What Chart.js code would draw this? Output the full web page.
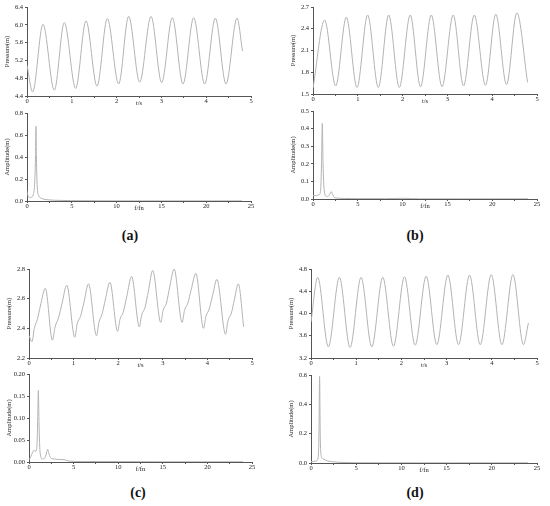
<!DOCTYPE html>
<html><head><meta charset="utf-8">
<script src="https://cdn.jsdelivr.net/npm/chart.js@4.4.0/dist/chart.umd.min.js"></script>
<style>
body{margin:0;background:#fff;width:550px;height:506px;position:relative;overflow:hidden}
canvas{position:absolute}
.lab{position:absolute;font:bold 14px 'Liberation Serif',serif;color:#111;transform:translate(-50%,-50%)}
</style></head><body>
<div class="lab" style="left:130px;top:236px">(a)</div>
<div class="lab" style="left:415px;top:236px">(b)</div>
<div class="lab" style="left:138px;top:493px">(c)</div>
<div class="lab" style="left:415px;top:493px">(d)</div>
<script>
// ---- data ----
const timeA = [0, 0.126, 0.357, 0.610, 0.833, 1.086, 1.317, 1.563, 1.793, 2.046, 2.269, 2.515, 2.768, 3.006, 3.244, 3.482, 3.720, 3.966, 4.204, 4.442, 4.688, 4.81];
const pressureA = [5.09, 4.49, 6.01, 4.53, 6.05, 4.57, 6.09, 4.62, 6.14, 4.67, 6.19, 4.71, 6.19, 4.70, 6.16, 4.67, 6.16, 4.67, 6.15, 4.67, 6.15, 5.41];

const timeB = [0, 0.26, 0.506, 0.744, 0.982, 1.22, 1.458, 1.69, 1.927, 2.17, 2.40, 2.64, 2.88, 3.13, 3.36, 3.60, 3.85, 4.08, 4.32, 4.55, 4.79];
const pressureB = [1.58, 2.52, 1.61, 2.56, 1.59, 2.59, 1.59, 2.59, 1.59, 2.59, 1.60, 2.59, 1.60, 2.59, 1.61, 2.59, 1.62, 2.60, 1.63, 2.62, 1.66];

const timeC = [0, 0.067, 0.12, 0.187, 0.255, 0.367,
  0.525, 0.585, 0.66, 0.735, 0.847,
  1.027, 1.079, 1.154, 1.229, 1.334,
  1.514, 1.567, 1.642, 1.709, 1.814,
  1.987, 2.039, 2.114, 2.189, 2.301,
  2.474, 2.526, 2.601, 2.676, 2.774,
  2.954, 3.006, 3.081, 3.156, 3.253,
  3.433, 3.486, 3.561, 3.636, 3.741,
  3.913, 3.966, 4.04, 4.115, 4.213,
  4.408, 4.46, 4.535, 4.603, 4.693, 4.813];
const pressureC = [2.35, 2.31, 2.40, 2.46, 2.55, 2.67,
  2.32, 2.41, 2.47, 2.56, 2.69,
  2.34, 2.43, 2.48, 2.57, 2.70,
  2.35, 2.44, 2.50, 2.59, 2.71,
  2.38, 2.46, 2.51, 2.61, 2.75,
  2.41, 2.49, 2.54, 2.65, 2.79,
  2.44, 2.52, 2.57, 2.68, 2.80,
  2.44, 2.52, 2.57, 2.66, 2.77,
  2.40, 2.48, 2.53, 2.62, 2.73,
  2.36, 2.45, 2.50, 2.59, 2.70, 2.41];

const timeD = [0, 0.148, 0.384, 0.628, 0.864, 1.108, 1.344, 1.588, 1.824, 2.068, 2.304, 2.548, 2.784, 3.028, 3.264, 3.508, 3.744, 3.988, 4.224, 4.468, 4.70, 4.81];
const pressureD = [3.85, 4.65, 3.40, 4.65, 3.39, 4.65, 3.40, 4.65, 3.41, 4.66, 3.43, 4.67, 3.44, 4.69, 3.44, 4.69, 3.44, 4.70, 3.44, 4.70, 3.44, 3.83];

const freqA = [0, 0.1, 0.3, 0.5, 0.7, 0.85, 0.95, 1.0, 1.05, 1.15, 1.3, 1.6, 2, 2.5, 3, 4, 5, 8, 12, 16, 20, 24];
const ampA = [0.09, 0.05, 0.03, 0.035, 0.06, 0.15, 0.40, 0.68, 0.40, 0.12, 0.05, 0.025, 0.015, 0.01, 0.007, 0.005, 0.003, 0.002, 0.001, 0.001, 0.001, 0.001];

const freqB = [0, 0.4, 0.7, 0.85, 0.95, 1.04, 1.12, 1.25, 1.5, 1.8, 1.95, 2.05, 2.15, 2.35, 2.7, 3.5, 5, 8, 10, 12, 16, 20, 24];
const ampB = [0.02, 0.02, 0.025, 0.05, 0.2, 0.43, 0.2, 0.05, 0.015, 0.02, 0.035, 0.042, 0.03, 0.01, 0.005, 0.003, 0.002, 0.002, 0.004, 0.001, 0.001, 0.001, 0.001];

const freqC = [0, 0.2, 0.4, 0.56, 0.75, 0.9, 0.98, 1.05, 1.12, 1.25, 1.5, 1.8, 2.0, 2.1, 2.2, 2.4, 2.8, 3.2, 4, 4.5, 6, 10, 15, 20, 24];
const ampC = [0.005, 0.012, 0.022, 0.027, 0.024, 0.04, 0.10, 0.163, 0.09, 0.02, 0.007, 0.01, 0.024, 0.029, 0.022, 0.01, 0.007, 0.006, 0.005, 0.002, 0.001, 0.001, 0.0005, 0.0005, 0.0005];

const freqD = [0, 0.3, 0.6, 0.8, 0.88, 0.95, 1.02, 1.1, 1.3, 1.6, 2, 2.5, 3, 4, 5, 8, 12, 16, 20, 24];
const ampD = [0.01, 0.01, 0.015, 0.04, 0.2, 0.59, 0.2, 0.06, 0.03, 0.02, 0.012, 0.008, 0.005, 0.003, 0.002, 0.001, 0.001, 0.001, 0.001, 0.001];

// axis ranges / tick steps
const timeAxis = {min: 0, max: 5, major: 1, minor: 0.5, title: 't/s'};
const freqAxis = {min: 0, max: 25, major: 5, minor: 2.5, title: 'f/fn'};
const yPressA = {min: 4.4, max: 6.4, step: 0.4, dec: 1, title: 'Pressure(m)'};
const yPressB = {min: 1.5, max: 2.7, step: 0.3, dec: 1, title: 'Pressure(m)'};
const yPressC = {min: 2.2, max: 2.8, step: 0.2, dec: 1, title: 'Pressure(m)'};
const yPressD = {min: 3.2, max: 4.8, step: 0.4, dec: 1, title: 'Pressure(m)'};
const yAmpA = {min: 0, max: 0.8, step: 0.2, dec: 1, title: 'Amplitude(m)'};
const yAmpB = {min: 0, max: 0.5, step: 0.1, dec: 1, title: 'Amplitude(m)'};
const yAmpC = {min: 0, max: 0.2, step: 0.05, dec: 2, title: 'Amplitude(m)'};
const yAmpD = {min: 0, max: 0.6, step: 0.2, dec: 1, title: 'Amplitude(m)'};

// ---- drawing ----
const LINE = '#b3b3b3', AX = '#555', TXT = '#222';
const FONT = {family: "'Liberation Serif', serif", size: 6.5};

function panel(g, xs, ys, xa, ya) {
  const W = 27, PT = 6, PR = 8, H = 13;
  const cv = document.createElement('canvas');
  const cl = g.l - W, ct = g.t - PT;
  cv.width = g.r - cl + PR; cv.height = g.b - ct + H;
  cv.style.left = cl + 'px'; cv.style.top = ct + 'px';
  document.body.appendChild(cv);
  new Chart(cv, {
    type: 'line',
    data: {datasets: [{data: xs.map((x, i) => ({x: x, y: ys[i]})), borderColor: LINE, borderWidth: 1,
      pointRadius: 0, cubicInterpolationMode: 'monotone', fill: false}]},
    options: {
      responsive: false, animation: false, devicePixelRatio: 1,
      layout: {padding: {top: PT, right: PR, left: 0, bottom: 0}},
      plugins: {legend: {display: false}, tooltip: {enabled: false}},
      scales: {
        x: {type: 'linear', min: xa.min, max: xa.max,
          afterFit: s => { s.height = H; },
          grid: {display: true, drawOnChartArea: false, tickLength: 2, color: AX},
          border: {color: AX, width: 1},
          ticks: {stepSize: xa.minor, autoSkip: false, maxRotation: 0, padding: -1, font: FONT, color: TXT,
            callback: v => (Math.abs(v / xa.major - Math.round(v / xa.major)) < 1e-6 ? String(Math.round(v)) : '')},
          title: {display: true, text: xa.title, padding: {top: 0, bottom: 2}, font: FONT, color: TXT}},
        y: {type: 'linear', min: ya.min, max: ya.max,
          afterFit: s => { s.width = W; },
          grid: {display: true, drawOnChartArea: false, tickLength: 2, color: AX},
          border: {color: AX, width: 1},
          ticks: {stepSize: ya.step, autoSkip: false, padding: 2, font: FONT, color: TXT,
            callback: v => Number(v).toFixed(ya.dec)},
          title: {display: true, text: ya.title, padding: {top: 3, bottom: 0}, font: FONT, color: TXT}}
      }
    }
  });
}

panel({l: 27, t: 7, r: 251, b: 96}, timeA, pressureA, timeAxis, yPressA);
panel({l: 27, t: 113, r: 251, b: 201}, freqA, ampA, freqAxis, yAmpA);
panel({l: 313, t: 7, r: 537, b: 94}, timeB, pressureB, timeAxis, yPressB);
panel({l: 313, t: 111, r: 537, b: 199}, freqB, ampB, freqAxis, yAmpB);
panel({l: 29, t: 269, r: 252, b: 358}, timeC, pressureC, timeAxis, yPressC);
panel({l: 29, t: 374, r: 252, b: 462}, freqC, ampC, freqAxis, yAmpC);
panel({l: 311, t: 269, r: 537, b: 358}, timeD, pressureD, timeAxis, yPressD);
panel({l: 311, t: 375, r: 537, b: 463}, freqD, ampD, freqAxis, yAmpD);
</script>
</body></html>
